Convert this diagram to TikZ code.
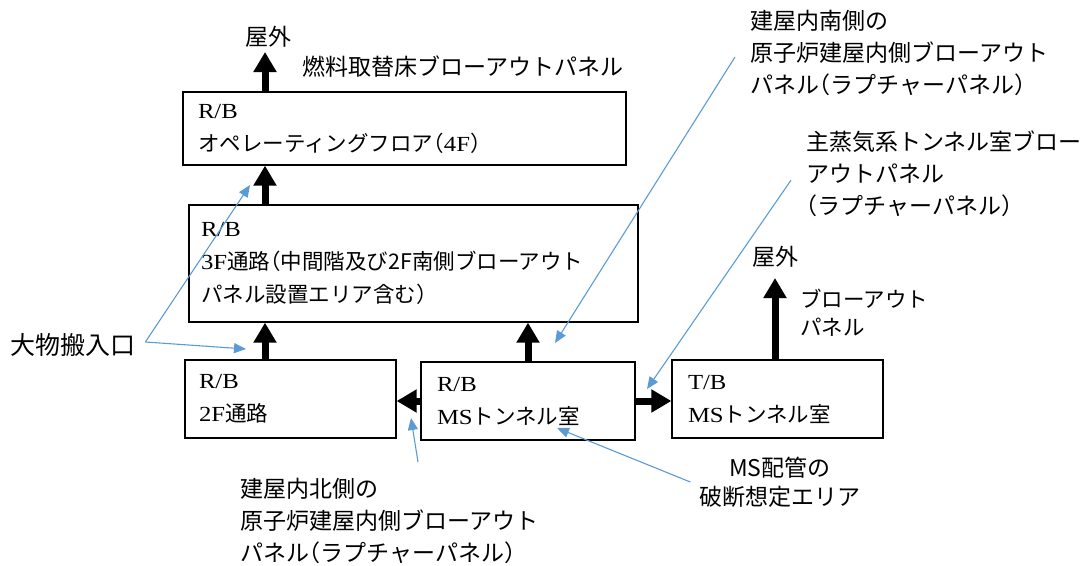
\documentclass[tikz,border=0pt]{standalone}
\usepackage{fontspec}
\setmainfont{Liberation Serif}[FakeStretch=1.15]
\newfontfamily\jp{Noto Sans CJK JP}[RawFeature=+halt]
\usetikzlibrary{arrows.meta,positioning}
\definecolor{calloutblue}{RGB}{91,155,213}
\newcommand{\jt}[1]{{\jp #1}}

\begin{document}
\begin{tikzpicture}[x=1pt,y=-1pt,
  room/.style={draw,line width=1.3pt,align=left,inner ysep=2pt,
    font=\fontsize{21.5}{33}\selectfont},
  note/.style={font=\jp\fontsize{23}{32}\selectfont,align=left,
    inner sep=0pt,anchor=north west},
  flow/.style={line width=7pt,-{Triangle[width=22pt,length=20pt]}},
  callout/.style={draw=calloutblue,line width=1.1pt,
    -{Triangle[width=10pt,length=12pt]}}
]
  \useasboundingbox (0,0) rectangle (1086,565);
  % Rooms
  \node[room,minimum height=73pt,inner xsep=15pt,text width=413pt] (op) at (404.5,128.5)
    {R/B\\\jt{オペレーティングフロア（}4F\jt{）}};
  \node[room,minimum height=117pt,inner xsep=12pt,text width=425pt] (f3) at (413.5,263.5)
    {R/B\\3F\jt{通路（中間階及び2F南側ブローアウト}\\\jt{パネル設置エリア含む）}};
  \node[room,minimum height=78pt,inner xsep=14pt,text width=183pt] (f2) at (290.5,399)
    {R/B\\2F\jt{通路}};
  \node[room,minimum height=78pt,inner xsep=16pt,text width=182pt] (ms) at (528,401)
    {R/B\\MS\jt{トンネル室}};
  \node[room,minimum height=78pt,inner xsep=16pt,text width=179pt] (tb) at (777.5,399)
    {T/B\\MS\jt{トンネル室}};
  % Labels
  \node[note] (roof1) at (245,26) {屋外};
  \node[note] (fuelpanel) at (302,56) {燃料取替床ブローアウトパネル};
  \node[note] (southlbl) at (750,10)
    {建屋内南側の\\原子炉建屋内側ブローアウト\\パネル（ラプチャーパネル）};
  \node[note] (steamlbl) at (806,131)
    {主蒸気系トンネル室ブロー\\アウトパネル\\（ラプチャーパネル）};
  \node[note] (roof2) at (752,246) {屋外};
  \node[note,font=\jp\fontsize{21.5}{28}\selectfont] (bolbl) at (800,289)
    {ブローアウト\\パネル};
  \node[note,anchor=west,font=\jp\fontsize{25}{32}\selectfont] (bigentry) at (10,345) {大物搬入口};
  \node[note] (northlbl) at (240,478)
    {建屋内北側の\\原子炉建屋内側ブローアウト\\パネル（ラプチャーパネル）};
  \node[note,align=center,anchor=center,font=\jp\fontsize{23}{29}\selectfont] (pipelbl) at (780,482)
    {MS配管の\\破断想定エリア};
  % Flow paths
  \coordinate (roofvent) at (265,52);
  \coordinate (tbvent) at (775,278);
  \draw[flow] (op.north -| roofvent) -- (roofvent);
  \draw[flow] (f3.north -| roofvent) -- (op.south -| roofvent);
  \draw[flow] (f2.north -| roofvent) -- (f3.south -| roofvent);
  \draw[flow] (ms.north) -- (f3.south -| ms.north);
  \draw[flow] (ms.west) -- (f2.east |- ms.west);
  \draw[flow] (ms.east) -- (tb.west |- ms.east);
  \draw[flow] (tb.north -| tbvent) -- (tbvent);
  % Callouts
  \coordinate (entryup) at (250,185);
  \coordinate (entrydown) at (246,349);
  \coordinate (southtip) at (555,343);
  \coordinate (steamtip) at (647,389);
  \coordinate (northtip) at (411,418);
  \coordinate (pipetip) at (557,428);
  \draw[callout] ([xshift=10pt,yshift=3pt]bigentry.east) -- (entryup);
  \draw[callout] ([xshift=10pt,yshift=3pt]bigentry.east) -- (entrydown);
  \draw[callout] ([xshift=-15pt,yshift=-4pt]southlbl.west) -- (southtip);
  \draw[callout] ([xshift=-15pt,yshift=-6pt]steamlbl.west) -- (steamtip);
  \draw[callout] ([shift={(178pt,16pt)}]northlbl.north west) -- (northtip);
  \draw[callout] ([xshift=-9pt]pipelbl.west) -- (pipetip);
\end{tikzpicture}
\end{document}
